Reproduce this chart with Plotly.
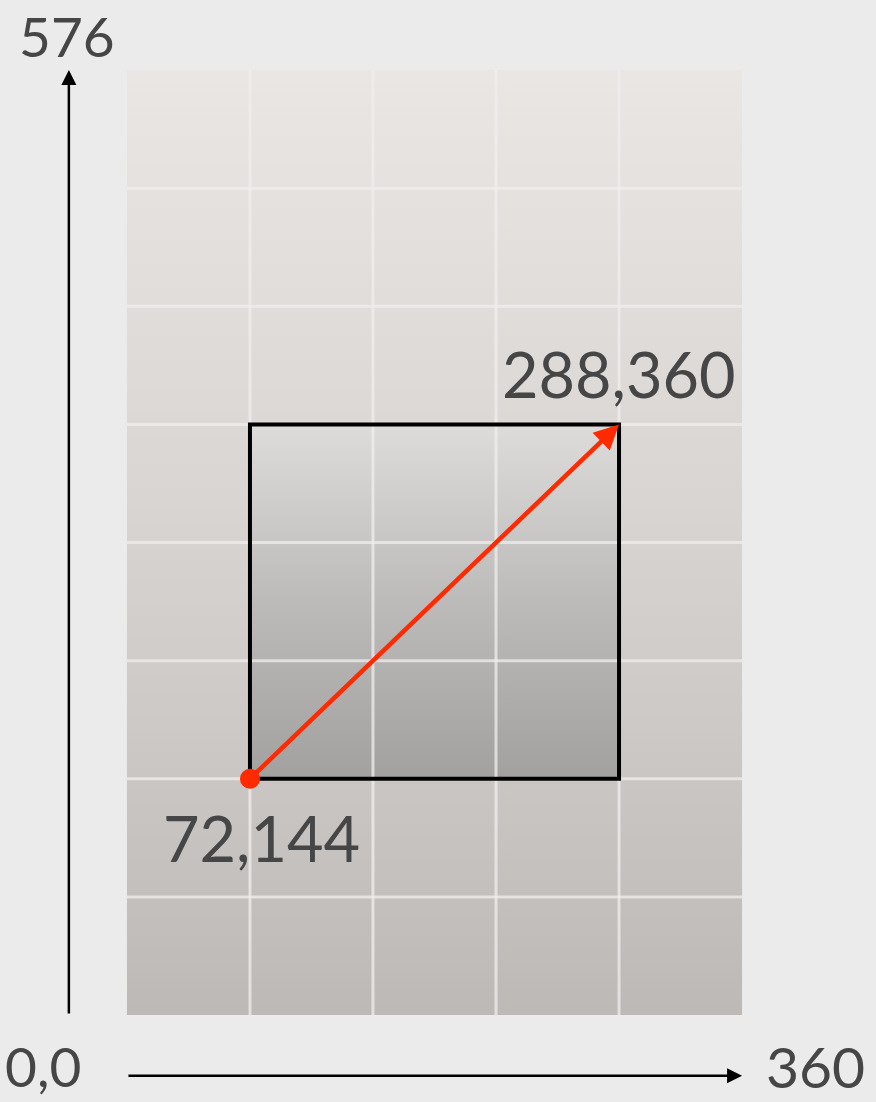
import plotly.graph_objects as go

# page size in points and the grid step
PAGE_W = 360
PAGE_H = 576
GRID_X = [72, 144, 216, 288]
GRID_Y = [72, 144, 216, 288, 360, 432, 504]

# the rectangle and its diagonal arrow
BOX_X = [72, 288]
BOX_Y = [144, 360]

# corner labels
LABEL_TEXT = ["576", "0,0", "360", "288,360", "72,144"]
LABEL_X = [-35, -49, 403, 288, 79]
LABEL_Y = [597, -31, -31, 391, 108]
LABEL_SIZE = [55, 55, 57, 63, 63]

AXIS_X_OFFSET = -34   # where the vertical axis arrow sits
AXIS_Y_OFFSET = -37   # where the horizontal axis arrow sits

BG = "#ebebeb"
TEXT = "#464646"
RED = "#ff2a00"
GRID = "rgba(240,238,236,0.75)"
FONT = "Lato, Noto Sans, sans-serif"

fig = go.Figure()

# page with a soft vertical gradient
fig.add_trace(go.Scatter(
    x=[0, PAGE_W, PAGE_W, 0, 0],
    y=[0, 0, PAGE_H, PAGE_H, 0],
    mode="lines",
    line=dict(width=0),
    fill="toself",
    fillgradient=dict(type="vertical",
                      colorscale=[[0, "#bcb9b7"], [0.55, "#d8d5d3"], [1, "#e9e6e4"]]),
    hoverinfo="skip",
    showlegend=False,
))

# the rectangle, darker gradient
fig.add_trace(go.Scatter(
    x=[BOX_X[0], BOX_X[1], BOX_X[1], BOX_X[0], BOX_X[0]],
    y=[BOX_Y[0], BOX_Y[0], BOX_Y[1], BOX_Y[1], BOX_Y[0]],
    mode="lines",
    line=dict(width=0),
    fill="toself",
    fillgradient=dict(type="vertical",
                      colorscale=[[0, "#a3a1a0"], [0.5, "#bdbbba"], [1, "#dedcda"]]),
    hoverinfo="skip",
    showlegend=False,
))

shapes = []
for gx in GRID_X:
    shapes.append(dict(type="line", x0=gx, x1=gx, y0=0, y1=PAGE_H, layer="above",
                       line=dict(color=GRID, width=3)))
for gy in GRID_Y:
    shapes.append(dict(type="line", x0=0, x1=PAGE_W, y0=gy, y1=gy, layer="above",
                       line=dict(color=GRID, width=3)))

shapes.append(dict(type="rect", x0=BOX_X[0], x1=BOX_X[1], y0=BOX_Y[0], y1=BOX_Y[1],
                   layer="above", line=dict(color="black", width=4)))

annotations = [
    # red diagonal
    dict(x=BOX_X[1], y=BOX_Y[1], ax=BOX_X[0], ay=BOX_Y[0], xref="x", yref="y",
         axref="x", ayref="y", text="", showarrow=True, arrowhead=2,
         arrowsize=1.1, arrowwidth=4.5, arrowcolor=RED),
    # axis arrows
    dict(x=AXIS_X_OFFSET, y=PAGE_H, ax=AXIS_X_OFFSET, ay=0, xref="x", yref="y",
         axref="x", ayref="y", text="", showarrow=True, arrowhead=2,
         arrowsize=1.2, arrowwidth=2.5, arrowcolor="black"),
    dict(x=PAGE_W, y=AXIS_Y_OFFSET, ax=0, ay=AXIS_Y_OFFSET, xref="x", yref="y",
         axref="x", ayref="y", text="", showarrow=True, arrowhead=2,
         arrowsize=1.2, arrowwidth=2.5, arrowcolor="black"),
]
for t, lx, ly, sz in zip(LABEL_TEXT, LABEL_X, LABEL_Y, LABEL_SIZE):
    annotations.append(dict(x=lx, y=ly, xref="x", yref="y", text=t, showarrow=False,
                            font=dict(family=FONT, size=sz, color=TEXT)))

# red dot at the start of the arrow
shapes.append(dict(type="circle", xref="x", yref="y", xsizemode="pixel",
                   ysizemode="pixel", xanchor=BOX_X[0], yanchor=BOX_Y[0],
                   x0=-10, x1=10, y0=-10, y1=10, layer="above",
                   fillcolor=RED, line=dict(width=0)))

fig.update_layout(
    width=876,
    height=1102,
    margin=dict(l=0, r=0, t=0, b=0),
    paper_bgcolor=BG,
    plot_bgcolor=BG,
    xaxis=dict(range=[-74.3, 438.4], visible=False, fixedrange=True),
    yaxis=dict(range=[-53.0, 618.7], visible=False, fixedrange=True),
    shapes=shapes,
    annotations=annotations,
    showlegend=False,
)

fig.write_html(
    "out.html",
    config={"displayModeBar": False},
    post_script="document.body.style.margin='0';document.body.style.background='#ebebeb';",
)
